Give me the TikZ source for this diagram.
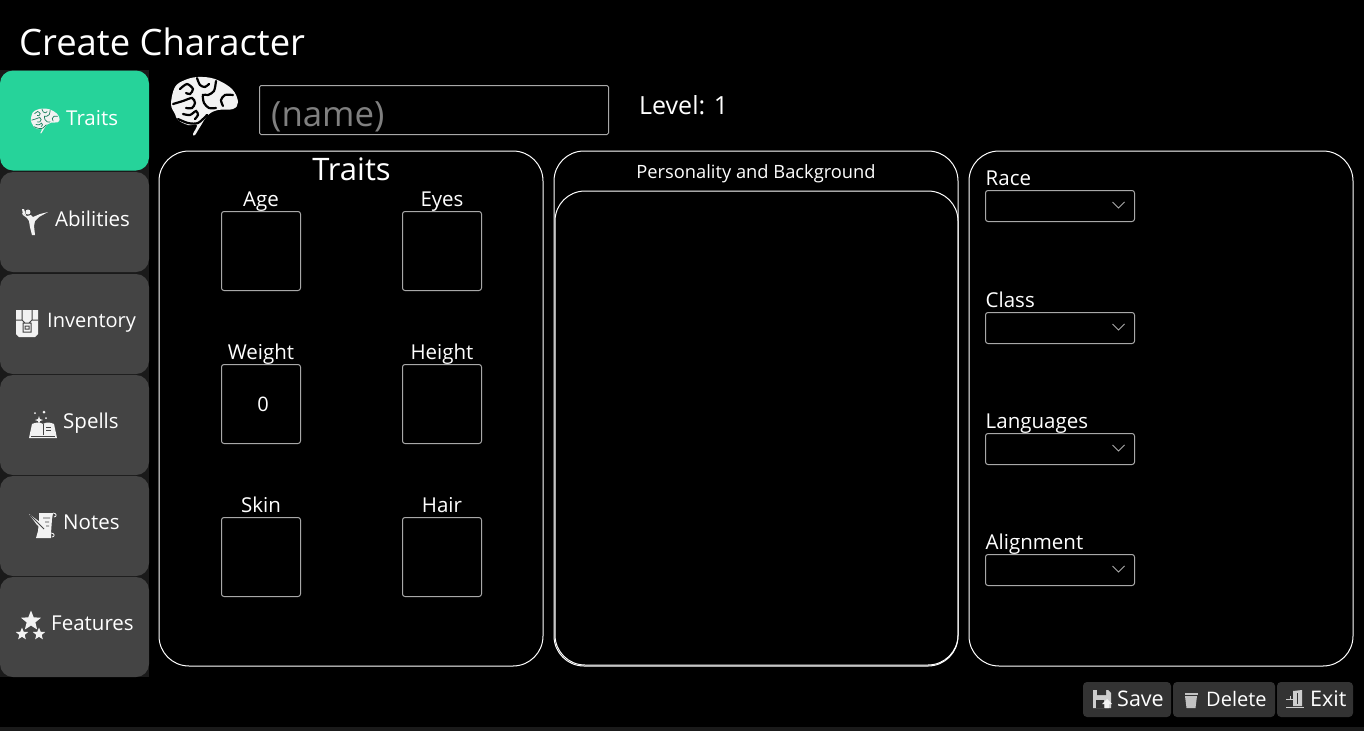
\documentclass[tikz,border=0pt]{standalone}
\usepackage{fontspec}
\setmainfont{Open Sans}
\usetikzlibrary{shapes.geometric}

\definecolor{sidebg}{HTML}{1A1A1A}
\definecolor{tabgreen}{HTML}{26D39A}
\definecolor{tabgrey}{HTML}{444444}
\definecolor{btngrey}{HTML}{333333}
\definecolor{boxline}{HTML}{A8A8A8}
\definecolor{iconwhite}{HTML}{F2F2F2}

\tikzset{
	tab/.style={fill=tabgrey, rounded corners=13pt, minimum width=149pt, minimum height=100pt, inner sep=0pt, outer sep=0pt},
	panel/.style={draw=white, line width=1pt, rounded corners=30pt, minimum height=515pt, inner sep=0pt, outer sep=0pt},
	field/.style={draw=boxline, line width=1pt, rounded corners=2.5pt, minimum width=79pt, minimum height=79pt, inner sep=0pt, outer sep=0pt, text=white, font=\fontsize{20}{24}\selectfont},
	drop/.style={draw=boxline, line width=1pt, rounded corners=2.5pt, minimum width=149pt, minimum height=31pt, inner sep=0pt, outer sep=0pt},
	btn/.style={fill=btngrey, rounded corners=4pt, minimum height=35pt, inner sep=0pt, outer sep=0pt},
	lab/.style={text=white, inner sep=0pt, font=\fontsize{20.5}{25}\selectfont},
	tablab/.style={text=white, inner sep=0pt, anchor=west, font=\fontsize{20.5}{25}\selectfont},
	chev/.style={draw=boxline, line width=1pt},
	bigstar/.style={star, star points=5, star point ratio=2.3, fill=iconwhite, inner sep=0pt}
}

% icons, drawn about their middle
\newcommand{\brainicon}[3]{
	\begin{scope}[shift={(#1)},scale=#2]
		\fill[iconwhite] plot[smooth cycle, tension=0.6] coordinates {(-33,-2) (-29,-19) (-19,-26) (-6,-29) (11,-27) (28,-17) (34,-4) (29,3) (14,4) (4,9) (-4,21) (-9,29) (-11,28) (-7,19) (-16,19) (-26,14) (-29,8)};
		\begin{scope}[#3, line cap=round]
			\draw plot[smooth] coordinates {(-24,-17) (-17,-22) (-11,-17) (-14,-12) (-18,-13)};
			\draw plot[smooth] coordinates {(-7,-28) (-4,-21) (1,-19) (5,-22)};
			\draw plot[smooth] coordinates {(12,-25) (10,-15) (4,-11) (-1,-11) (0,-3) (5,2) (12,2)};
			\draw plot[smooth] coordinates {(29,-11) (21,-11) (17,-6) (19,0)};
			\draw plot[smooth] coordinates {(-31,-2) (-21,-5) (-12,-8) (-9,-3) (-12,2) (-18,2)};
			\draw plot[smooth] coordinates {(-21,8) (-14,9) (-8,5) (-6,9) (-9,13)};
			\draw plot[smooth] coordinates {(-26,13) (-16,17) (-6,17) (3,9)};
		\end{scope}
	\end{scope}
}
\newcommand{\kickicon}[1]{
	\begin{scope}[shift={(#1)}]
		\fill[iconwhite] (-13,-9) -- (-8,-6) -- (-4,-7) -- (-2,-5) -- (5,-8) -- (13,-10) -- (4,-5) -- (0,-1) -- (-1,4) -- (0,13) -- (-3,13) -- (-5,5) -- (-6,-1) -- (-8,-4) -- (-12,-7) -- cycle;
		\fill[iconwhite] (-7,-10) circle (2.5pt);
		\fill[iconwhite] (-13,-13) -- (-11,-13) -- (-9,-7) -- (-12,-8) -- cycle;
	\end{scope}
}
\newcommand{\chesticon}[1]{
	\begin{scope}[shift={(#1)}]
		\fill[iconwhite] (-11,-13) -- (11,-13) -- (11,11) -- (8,14) -- (-8,14) -- (-11,11) -- cycle;
		\draw[tabgrey, line width=1pt] (-5,-13) -- (-5,-3) -- (-2,0) (5,-13) -- (5,-3) -- (2,0) (-11,-3) -- (-5,-3) (5,-3) -- (11,-3) (-4,0) rectangle (4,9) (-2,3) rectangle (2,6);
	\end{scope}
}
\newcommand{\bookicon}[1]{
	\begin{scope}[shift={(#1)}]
		\fill[iconwhite] (-11,0) .. controls (-7,-2) and (-3,-2) .. (0,0) .. controls (3,-2) and (7,-2) .. (11,0) -- (14,14) -- (-14,14) -- cycle;
		\draw[tabgrey, line width=0.7pt] (0,0) -- (0,11) (3,3) -- (8,3) (3,6) -- (8,6) (-12,12) -- (12,12);
		\fill[iconwhite] (-4,-8) -- (-3,-5) -- (0,-4) -- (-3,-3) -- (-4,0) -- (-5,-3) -- (-8,-4) -- (-5,-5) -- cycle;
		\fill[iconwhite] (-8,-11) circle (1pt) (1,-12) circle (1.5pt) (3,-6) circle (1pt);
	\end{scope}
}
\newcommand{\scrollicon}[1]{
	\begin{scope}[shift={(#1)}]
		\fill[iconwhite] (-4,-12) -- (10,-12) -- (9,-6) -- (8,8) -- (8,13) -- (-7,13) -- (-5,6) -- (-4,-4) -- cycle;
		\draw[iconwhite, line width=0.8pt] (10,-12) .. controls (14,-12) and (14,-8) .. (11,-8) (8,8) .. controls (12,8) and (12,12) .. (9,12);
		\fill[iconwhite] (-14,-11) -- (-3,-3) -- (2,5) -- (-6,0) -- cycle;
		\draw[tabgrey, line width=0.8pt] (-13,-10) -- (1,4) (0,-7) -- (7,-7) (2,-3) -- (6,-3) (3,1) -- (6,1);
	\end{scope}
}
\newcommand{\trashicon}[1]{
	\begin{scope}[shift={(#1)}]
		\fill[iconwhite!80!black] (-6,-4) -- (6,-4) -- (4.5,8) -- (-4.5,8) -- cycle;
		\fill[iconwhite!80!black] (-6.5,-7) rectangle (6.5,-5.5);
	\end{scope}
}
\newcommand{\saveicon}[1]{
	\begin{scope}[shift={(#1)}]
		\fill[iconwhite!85!black] (-9,-9) -- (6,-9) -- (9,-6) -- (9,9) -- (-9,9) -- cycle;
		\fill[btngrey] (-5,-9) rectangle (4,-4) (-6,1) rectangle (2,9);
		\fill[iconwhite] (5,0) -- (10,5) -- (7,5) -- (7,9) -- (3,9) -- (3,5) -- (0,5) -- cycle;
	\end{scope}
}
\newcommand{\exiticon}[1]{
	\begin{scope}[shift={(#1)}]
		\fill[iconwhite!85!black] (-2,-8) -- (7,-9) -- (7,7) -- (-2,7) -- cycle;
		\fill[iconwhite!85!black] (-9,8) rectangle (9,9);
		\draw[iconwhite!85!black, line width=1pt] (-9,0) -- (-2,0) (-5,-3) -- (-5,0);
		\draw[btngrey, line width=0.8pt] (2,-6) -- (2,5);
	\end{scope}
}

\begin{document}
\begin{tikzpicture}[x=1pt,y=-1pt]
	\useasboundingbox (0,0) rectangle (1364,731);
	\fill[black] (0,0) rectangle (1364,731);
	\fill[sidebg] (0,70) rectangle (149,677);
	\fill[sidebg] (0,727) rectangle (1364,731);

	\node[text=white, inner sep=0pt, anchor=west, font=\fontsize{36.4}{42}\selectfont] (title) at (19,42) {Create Character};

	% side tabs
	\node[tab, fill=tabgreen] (traitstab) at (74.5,120.5) {};
	\node[tab] (abilitiestab) at (74.5,222) {};
	\node[tab] (inventorytab) at (74.5,324) {};
	\node[tab] (spellstab) at (74.5,425) {};
	\node[tab] (notestab) at (74.5,526) {};
	\node[tab] (featurestab) at (74.5,627) {};
	\node[tablab] (traitslab) at (66,118) {Traits};
	\node[tablab] (abilitieslab) at (55,219) {Abilities};
	\node[tablab, font=\fontsize{20}{25}\selectfont] (inventorylab) at (47,323) {Inventory};
	\node[tablab] (spellslab) at (63,423) {Spells};
	\node[tablab] (noteslab) at (63,522) {Notes};
	\node[tablab] (featureslab) at (51,623) {Features};
	\brainicon{45,121}{0.43}{draw=tabgreen!60!black, line width=0.7pt}
	\kickicon{35,222}
	\chesticon{27,323}
	\bookicon{43,424}
	\scrollicon{43,525}
	\node[bigstar, minimum size=21pt] (topstar) at (31,621) {};
	\node[bigstar, minimum size=13pt] (leftstar) at (22,634) {};
	\node[bigstar, minimum size=13pt] (rightstar) at (39,634) {};

	% name row
	\brainicon{204,106}{1}{draw=black, line width=2.2pt}
	\node[draw=boxline, line width=1pt, rounded corners=1.5pt, minimum width=349pt, minimum height=49pt, inner sep=0pt] (namebox) at (434,110) {};
	\node[text=gray, inner sep=0pt, anchor=west, font=\fontsize{34.8}{40}\selectfont] (namelab) at (271,117) {(name)};
	\node[text=white, inner sep=0pt, anchor=west, font=\fontsize{25}{30}\selectfont] (level) at (639,105) {Level: 1};

	% panels
	\node[panel, minimum width=384pt] (traitspanel) at (351,408.5) {};
	\node[panel, minimum width=404pt] (bgpanel) at (756,408.5) {};
	\node[panel, minimum width=403pt, minimum height=474pt] (bgtext) at (756.5,428) {};
	\node[panel, minimum width=384pt] (racepanel) at (1161,408.5) {};

	\node[text=white, inner sep=0pt, font=\fontsize{31}{36}\selectfont] (traitstitle) at (351.5,169) {Traits};
	\node[text=white, inner sep=0pt, font=\fontsize{18.3}{22}\selectfont] (bgtitle) at (756,174) {Personality and Background};

	% the six boxes
	\foreach \name/\txt/\x/\y/\val in {age/Age/261/251/, eyes/Eyes/442/251/, weight/Weight/261/404/\hspace{4pt}0, height/Height/442/404/, skin/Skin/261/557/, hair/Hair/442/557/}{
		\node[field] (\name) at (\x,\y) {\val};
		\node[lab, above=-3pt] (\name lab) at (\name.north) {\strut\txt};
	}

	% right column
	\foreach \name/\txt/\y in {race/Race/206, class/Class/328, lang/Languages/449, align/Alignment/570}{
		\node[drop] (\name) at (1060,\y) {};
		\node[lab, anchor=south west] (\name lab) at ([yshift=-2.5pt]\name.north west) {\strut\txt};
		\coordinate (\name tip) at ([xshift=-16pt,yshift=-2pt]\name.center -| \name.east);
		\draw[chev] ([xshift=-6pt,yshift=6pt]\name tip) -- (\name tip) -- ([xshift=6pt,yshift=6pt]\name tip);
	}

	% bottom buttons
	\node[btn, minimum width=88pt] (savebtn) at (1127,699.5) {};
	\node[btn, minimum width=102pt] (deletebtn) at (1224,699.5) {};
	\node[btn, minimum width=76pt] (exitbtn) at (1315,699.5) {};
	\node[tablab, font=\fontsize{21.5}{26}\selectfont] (savelab) at (1117,699) {Save};
	\node[tablab, font=\fontsize{20}{26}\selectfont] (deletelab) at (1206,698.5) {Delete};
	\node[tablab, font=\fontsize{21.5}{26}\selectfont] (exitlab) at (1310,699) {Exit};
	\saveicon{1102,699}
	\trashicon{1191,700}
	\exiticon{1295,699}
\end{tikzpicture}
\end{document}
